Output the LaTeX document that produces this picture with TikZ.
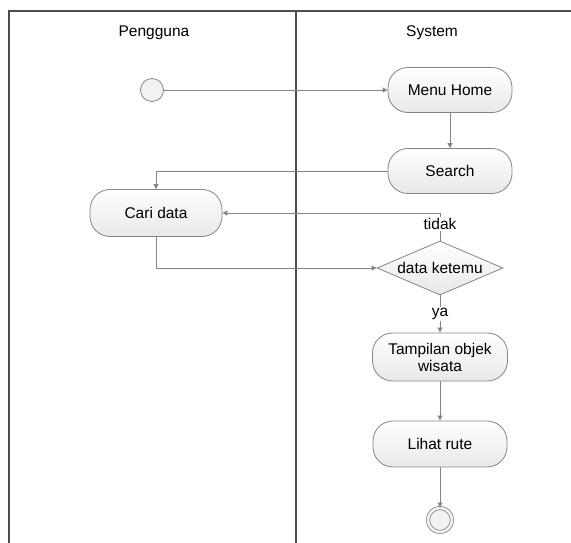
\documentclass[tikz,border=0pt]{standalone}
\usepackage{fontspec}
\setmainfont{Liberation Sans}
\usepackage{xcolor}
\usetikzlibrary{shapes.geometric, arrows.meta, positioning}

\definecolor{lanegray}{HTML}{4D4D4D}
\definecolor{linegray}{HTML}{858585}

\begin{document}
\begin{tikzpicture}[
  x=1pt, y=-1pt,
  font=\fontsize{15.5}{17}\selectfont,
  lane/.style={draw=lanegray, line width=1.3pt},
  activity/.style={rectangle, rounded corners=20pt, draw=linegray, line width=0.8pt,
                   top color=white, bottom color=black!9,
                   minimum width=124pt, minimum height=45pt, align=center, inner sep=2pt},
  decision/.style={diamond, draw=linegray, line width=0.8pt,
                   top color=white, bottom color=black!9, aspect=2.3,
                   minimum width=126pt, minimum height=54pt, inner sep=0pt},
  startnode/.style={circle, draw=linegray, line width=0.8pt, fill=black!5,
                    minimum size=23pt, inner sep=0pt},
  endnode/.style={circle, draw=linegray, line width=0.8pt, double=black!5,
                  double distance=2.5pt, fill=black!5, minimum size=24pt, inner sep=0pt},
  guard/.style={fill=white, inner sep=1pt},
  flow/.style={-{Triangle[length=5pt, width=5pt]}, draw=linegray, line width=0.8pt}
]
\useasboundingbox (0,0) rectangle (571,543);

% --- Swimlanes ---
\draw[lane] (9,543) -- (9,11) -- (571,11);
\draw[lane] (296,11) -- (296,543);
\node (lanePengguna) at (154,33) {Pengguna};
\node (laneSystem) at (432,33) {System};

% --- Nodes ---
\node[startnode] (start) at (152,90) {};
\node[activity] (home) at (450,90) {Menu Home};
\node[activity] (search) at (450,171) {Search};
\node[activity, minimum width=132pt, minimum height=47pt] (cari) at (156,213) {Cari data};
\node[decision] (cek) at (440,268) {data ketemu};
\node[activity, minimum width=135pt, minimum height=48pt] (tampil) at (440,357)
  {Tampilan objek\\wisata};
\node[activity, minimum width=134pt, minimum height=46pt] (lihat) at (440,444) {Lihat rute};
\node[endnode] (end) at (440,520) {};

% --- Flows ---
\draw[flow] (start) -- (home);
\draw[flow] (home) -- (search);
\draw[flow] (search.west) -| (cari.north);
\draw[flow] (cek.north) |- node[guard, pos=0.3] {tidak} (cari.east);
\draw[flow] (cari.south) |- (cek.west);
\draw[flow] (cek.south) -- node[guard, pos=0.5] {ya} (tampil.north);
\draw[flow] (tampil) -- (lihat);
\draw[flow] (lihat) -- (end);
\end{tikzpicture}
\end{document}
